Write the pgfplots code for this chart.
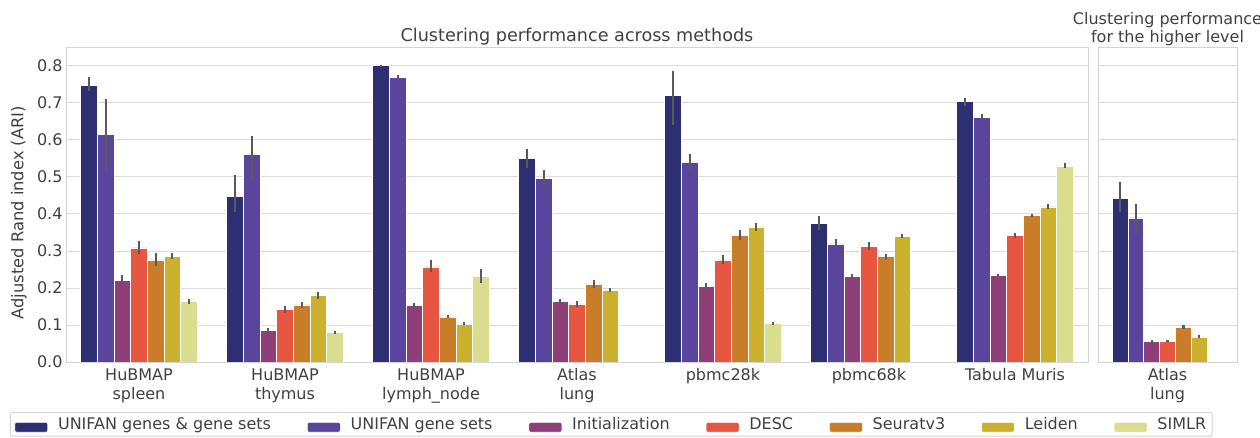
\documentclass[border=0pt]{standalone}
\usepackage{pgfplots}
\pgfplotsset{compat=1.18}
\usepackage{pgfplotstable}
\usepackage{fontspec}
\setmainfont{DejaVu Sans}

\definecolor{c1}{HTML}{2E2F73}
\definecolor{c2}{HTML}{59459C}
\definecolor{c3}{HTML}{8E3F78}
\definecolor{c4}{HTML}{E65640}
\definecolor{c5}{HTML}{C97D29}
\definecolor{c6}{HTML}{CCB12F}
\definecolor{c7}{HTML}{DADD8E}
\definecolor{txt}{HTML}{404040}
\definecolor{gridc}{HTML}{DCDCDC}
\definecolor{spinec}{HTML}{D4D4D4}
\definecolor{errc}{HTML}{5A5A5A}

\pgfplotstableread{
x y ep em
0 0.747 0.023 0.015
1 0.448 0.057 0.043
2 0.801 0.002 0.002
3 0.550 0.026 0.025
4 0.720 0.066 0.079
5 0.375 0.020 0.019
6 0.703 0.011 0.011
}\tA
\pgfplotstableread{
x y ep em
0 0.614 0.097 0.100
1 0.561 0.049 0.068
2 0.768 0.006 0.006
3 0.495 0.023 0.018
4 0.539 0.022 0.023
5 0.319 0.012 0.012
6 0.660 0.009 0.009
}\tB
\pgfplotstableread{
x y ep em
0 0.221 0.013 0.009
1 0.086 0.005 0.005
2 0.152 0.008 0.008
3 0.164 0.005 0.005
4 0.204 0.009 0.009
5 0.232 0.007 0.007
6 0.234 0.004 0.004
}\tC
\pgfplotstableread{
x y ep em
0 0.308 0.018 0.017
1 0.142 0.009 0.009
2 0.257 0.018 0.013
3 0.157 0.008 0.008
4 0.276 0.012 0.012
5 0.313 0.010 0.010
6 0.342 0.007 0.007
}\tD
\pgfplotstableread{
x y ep em
0 0.276 0.018 0.016
1 0.154 0.008 0.008
2 0.122 0.004 0.004
3 0.211 0.011 0.011
4 0.343 0.013 0.013
5 0.285 0.008 0.008
6 0.397 0.004 0.004
}\tE
\pgfplotstableread{
x y ep em
0 0.286 0.008 0.008
1 0.180 0.010 0.010
2 0.103 0.004 0.004
3 0.195 0.005 0.005
4 0.365 0.010 0.010
5 0.340 0.005 0.005
6 0.419 0.007 0.007
}\tF
\pgfplotstableread{
x y ep em
0 0.164 0.007 0.007
1 0.080 0.004 0.004
2 0.232 0.020 0.019
4 0.104 0.003 0.003
6 0.530 0.007 0.007
}\tG

\pgfplotsset{
  mybar/.style={ybar, bar width=0.114286, bar shift=0pt, fill=#1, draw=white, line width=0.6pt,
    error bars/.cd, y dir=both, y explicit, error mark=none,
    error bar style={line width=2.2pt, color=errc, solid}},
  common/.style={
    scale only axis, height=315pt, ymin=0, ymax=0.851,
    ytick={0,0.1,0.2,0.3,0.4,0.5,0.6,0.7,0.8},
    ymajorgrids, grid style={gridc, line width=0.9pt},
    axis line style={spinec, line width=0.9pt},
    major tick length=0pt,
    tick label style={font=\fontsize{16}{19}\selectfont, text=txt},
    /pgf/number format/assume math mode=true,
    yticklabel style={/pgf/number format/.cd, fixed, fixed zerofill, precision=1},
    xticklabel style={align=center, yshift=-3pt},
  },
}

\begin{document}
\begin{tikzpicture}
\path[use as bounding box] (0pt,0pt) rectangle (1260pt,438pt);
\begin{axis}[common,
  at={(66pt,76pt)}, anchor=south west, width=1022pt,
  xmin=-0.5, xmax=6.5,
  xtick={0,1,2,3,4,5,6},
  xticklabels={{HuBMAP\\spleen},{HuBMAP\\thymus},{HuBMAP\\lymph\_node},{Atlas\\lung},{pbmc28k},{pbmc68k},{Tabula Muris}},
  ylabel={Adjusted Rand index (ARI)},
  ylabel style={at={(axis description cs:-0.046,0.474)}, anchor=center, font=\fontsize{16.3}{19}\selectfont, text=txt},
  title={Clustering performance across methods},
  title style={at={(axis description cs:0.5,1)}, anchor=base, yshift=-1pt, font=\fontsize{17.6}{20}\selectfont, text=txt},
  legend columns=7,
  legend style={at={(axis description cs:-0.0548,-0.1587)}, anchor=north west, draw=spinec, line width=0.9pt, rounded corners=2pt,
    font=\fontsize{16}{19}\selectfont, text=txt, inner xsep=4pt, inner ysep=3pt,
    /tikz/every even column/.append style={column sep=34pt}},
  legend image code/.code={\fill[#1] (0pt,-8pt) rectangle (33pt,2pt); \path (41pt,0pt);},
]
\addplot[mybar=c1] table[x expr=\thisrow{x}-0.342857, y=y, y error plus=ep, y error minus=em]{\tA};
\addplot[mybar=c2] table[x expr=\thisrow{x}-0.228571, y=y, y error plus=ep, y error minus=em]{\tB};
\addplot[mybar=c3] table[x expr=\thisrow{x}-0.114286, y=y, y error plus=ep, y error minus=em]{\tC};
\addplot[mybar=c4] table[x expr=\thisrow{x}, y=y, y error plus=ep, y error minus=em]{\tD};
\addplot[mybar=c5] table[x expr=\thisrow{x}+0.114286, y=y, y error plus=ep, y error minus=em]{\tE};
\addplot[mybar=c6] table[x expr=\thisrow{x}+0.228571, y=y, y error plus=ep, y error minus=em]{\tF};
\addplot[mybar=c7] table[x expr=\thisrow{x}+0.342857, y=y, y error plus=ep, y error minus=em]{\tG};
\legend{UNIFAN genes \& gene sets, UNIFAN gene sets, Initialization, DESC, Seuratv3, Leiden, SIMLR}
\end{axis}

\begin{axis}[common,
  at={(1098pt,76pt)}, anchor=south west, width=139pt,
  xmin=-0.5, xmax=0.5,
  xtick={0}, xticklabels={{Atlas\\lung}},
  yticklabels={},
  title={Clustering performance\\for the higher level},
  title style={at={(axis description cs:0.5,1)}, anchor=south, yshift=-8pt, align=center, font=\fontsize{16}{18}\selectfont, text=txt},
]
\addplot[mybar=c1] coordinates {(-0.342857,0.443) += (0,0.042) -= (0,0.038)};
\addplot[mybar=c2] coordinates {(-0.228571,0.389) += (0,0.038) -= (0,0.045)};
\addplot[mybar=c3] coordinates {(-0.114286,0.056) += (0,0.004) -= (0,0.004)};
\addplot[mybar=c4] coordinates {(0,0.057) += (0,0.003) -= (0,0.003)};
\addplot[mybar=c5] coordinates {(0.114286,0.095) += (0,0.006) -= (0,0.006)};
\addplot[mybar=c6] coordinates {(0.228571,0.068) += (0,0.004) -= (0,0.004)};
\end{axis}
\end{tikzpicture}
\end{document}
